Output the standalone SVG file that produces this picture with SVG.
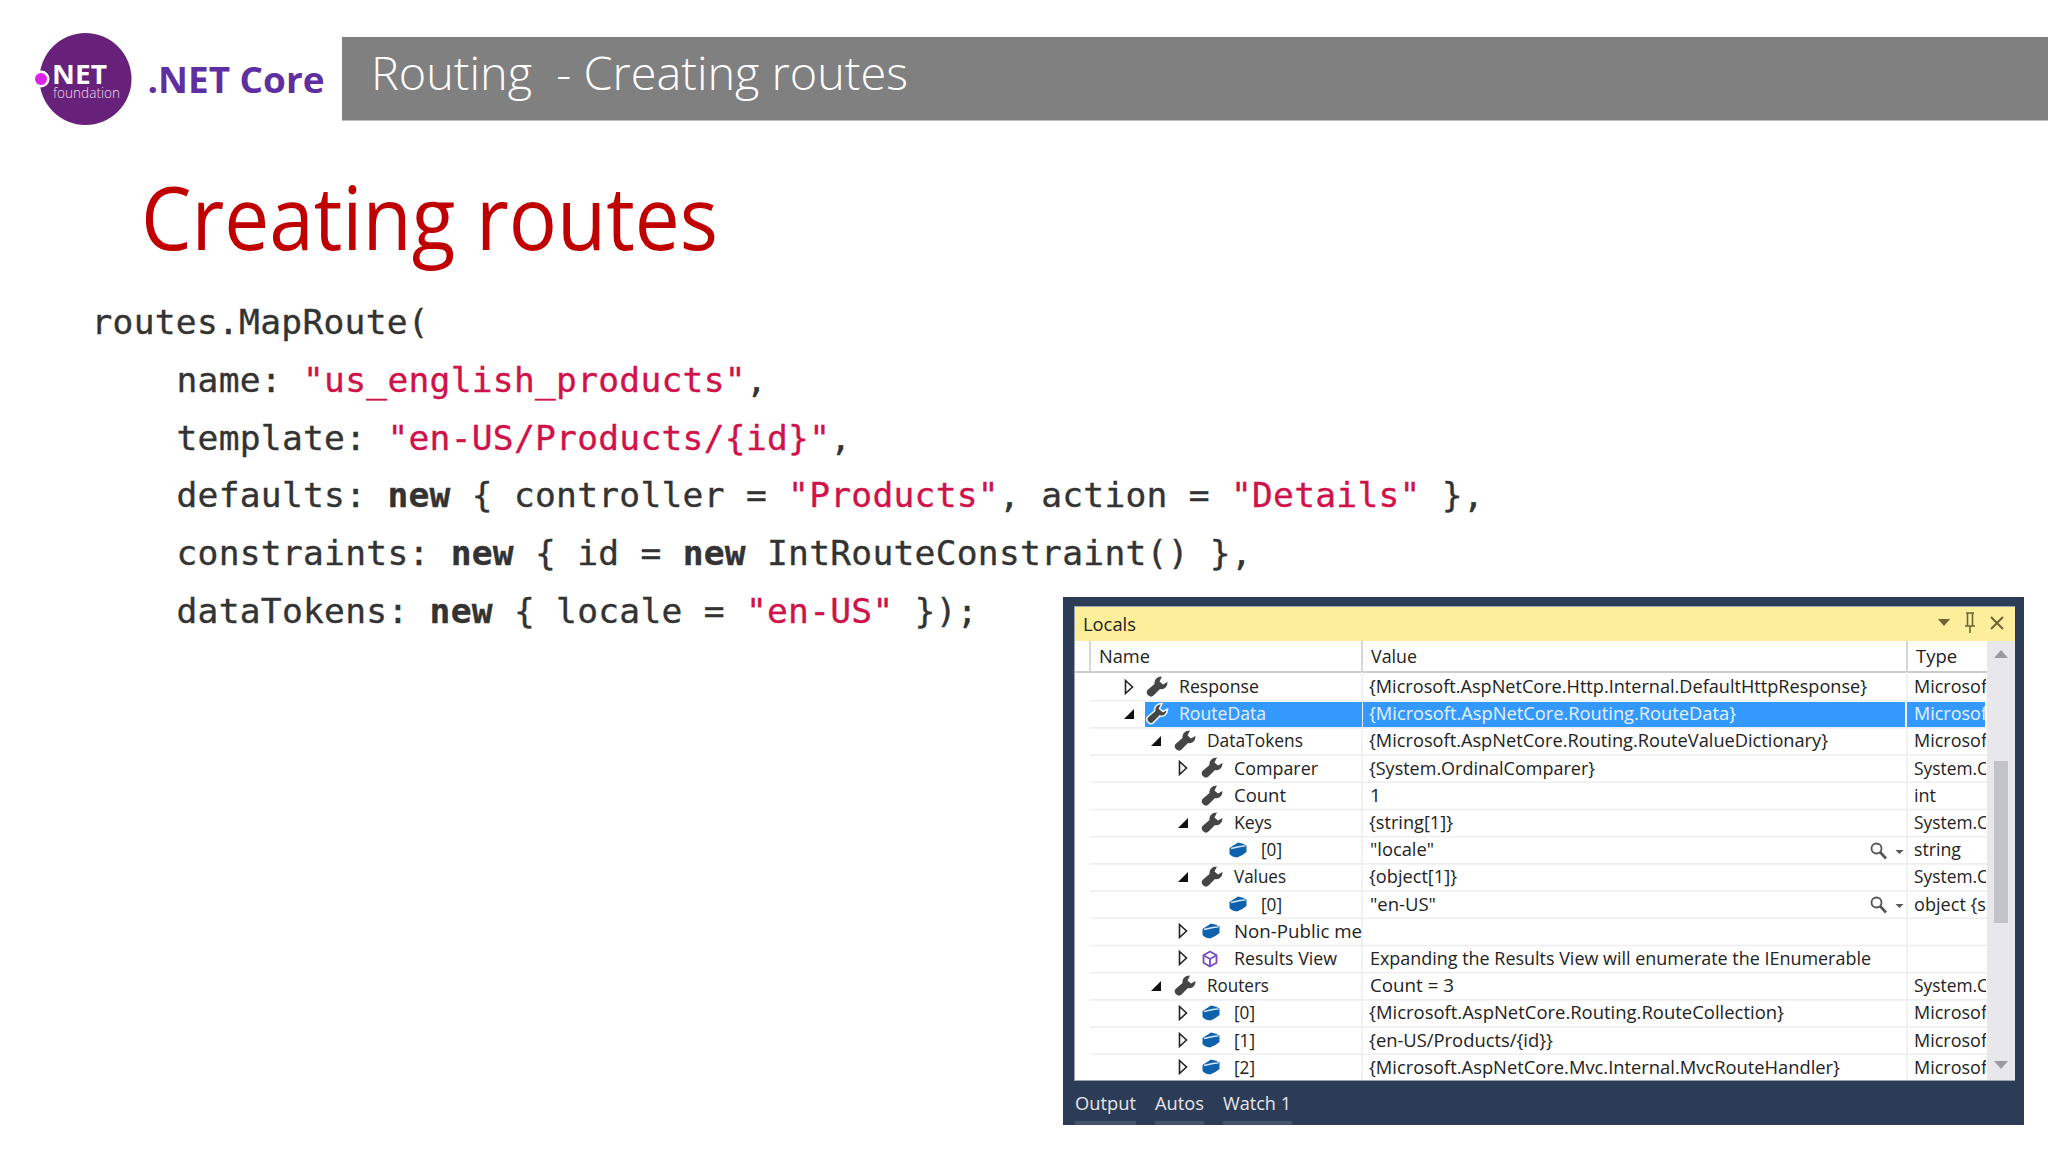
<svg xmlns="http://www.w3.org/2000/svg" width="2048" height="1152" viewBox="0 0 2048 1152">
<style>
.ui{font-family:"Open Sans","Noto Sans","Liberation Sans",sans-serif}
.code{font-family:"DejaVu Sans Mono","Liberation Mono",monospace;font-size:34.6px;letter-spacing:.27px;fill:#333;stroke:#333;stroke-width:.35}
.str{fill:#d0124a;stroke:#d0124a}
.kw{font-weight:700}
.t{font-family:"Open Sans","Noto Sans","Liberation Sans",sans-serif;font-size:19px;fill:#222}
.sel{fill:#e6f1ff}
.tab{font-family:"Open Sans","Noto Sans","Liberation Sans",sans-serif;font-size:19px;fill:#e4e6ea}
.rl{stroke:#efefef;stroke-width:1.6}
.w{fill:#454545}
.open{fill:#111}
.closed{fill:#fff;stroke:#222;stroke-width:1.6}
</style>
<defs>
<path id="wrench" d="M5-10.500C0-10.500-3-7-2.500-3L-9.500 3C-11 5-10 7.500-8.500 8.500C-7 10-5 10-3.500 8.500L3 2C7 3 10.500 0 10.500-5L6-2.500 2.500-5.500Z"/>
<g id="cube"><path d="M-8.500-2L0-7.500Q4-7 8.500-4.500V2Q4 6-1 7.500Q-6 7-8.500 4Z" fill="#0e62ad"/><path d="M-7-1.500L2-3.500 7.500-4.200" fill="none" stroke="#dbe9f6" stroke-width="1.300"/></g>
<g id="results" fill="none" stroke="#7a4cb8" stroke-width="1.800"><path d="M0-7.500L6.500-3.700V3.700L0 7.500-6.500 3.700V-3.700Z"/><path d="M-6.500-3.700L0 0 6.500-3.700M0 0V7.500"/></g>
<path id="tr-open" class="open" d="M-5 5H5V-5Z"/>
<path id="tr-closed" class="closed" d="M-3.500-6.500L3.500 0-3.500 6.500Z"/>
<g id="search"><circle cx="-1.500" cy="-2.500" r="5" fill="none" stroke="#555" stroke-width="1.800"/><path d="M2 1L8 7.500" stroke="#555" stroke-width="2.600"/><path d="M17.500-1H25.500L21.500 3Z" fill="#555"/></g>
<clipPath id="typeClip"><rect x="1908" y="672" width="78" height="408"/></clipPath>
</defs>
<rect width="2048" height="1152" fill="#fff"/>

<g id="logo">
<circle cx="85.500" cy="79" r="46" fill="#68217a"/>
<circle cx="41" cy="79" r="8.500" fill="#fff"/>
<circle cx="41" cy="79" r="6" fill="#dd22ee"/>
<text class="ui" x="52" y="83.500" font-size="26" font-weight="700" fill="#fff" textLength="55" lengthAdjust="spacingAndGlyphs">NET</text>
<text class="ui" x="53" y="98" font-size="15" font-weight="300" fill="#e9dcec" textLength="67" lengthAdjust="spacingAndGlyphs">foundation</text>
<text class="ui" x="147.500" y="92.700" font-size="36" font-weight="700" fill="#5f2ea0" textLength="177" lengthAdjust="spacingAndGlyphs">.NET Core</text>
</g>

<g id="header">
<rect x="342" y="37" width="1706" height="83.500" fill="#808080"/>
<text class="ui" x="371" y="90" font-size="46" font-weight="300" fill="#fff" xml:space="preserve" textLength="537" lengthAdjust="spacingAndGlyphs">Routing  - Creating routes</text>
</g>

<g id="title">
<text class="ui" x="141" y="250" font-size="88" fill="#c00000" textLength="577" lengthAdjust="spacingAndGlyphs">Creating routes</text>
</g>

<g id="code" xml:space="preserve">
<text class="code" x="91.500" y="334">routes.MapRoute(</text>
<text class="code" x="176.500" y="391.500">name: <tspan class="str">"us_english_products"</tspan>,</text>
<text class="code" x="176.500" y="449.500">template: <tspan class="str">"en-US/Products/{id}"</tspan>,</text>
<text class="code" x="176.500" y="507">defaults: <tspan class="kw">new</tspan> { controller = <tspan class="str">"Products"</tspan>, action = <tspan class="str">"Details"</tspan> },</text>
<text class="code" x="176.500" y="565">constraints: <tspan class="kw">new</tspan> { id = <tspan class="kw">new</tspan> IntRouteConstraint() },</text>
<text class="code" x="176.500" y="622.500">dataTokens: <tspan class="kw">new</tspan> { locale = <tspan class="str">"en-US"</tspan> });</text>
</g>

<g id="locals">
<rect x="1063" y="597" width="961" height="528" fill="#2d3c56"/>
<rect x="1074" y="606" width="941" height="475" fill="#9aa3b0"/>
<rect x="1075" y="607" width="940" height="34" fill="#fdee9b"/>
<rect x="1075" y="641" width="940" height="439" fill="#fff"/>
<text class="t" x="1083" y="631" textLength="53" lengthAdjust="spacingAndGlyphs">Locals</text>
<path d="M1938 619H1950L1944 626Z" fill="#6e6436"/>
<path d="M1966 613H1974M1967.500 613V626H1972.500V613M1965 626H1975M1970 626V633" fill="none" stroke="#6e6436" stroke-width="1.600"/>
<path d="M1991 617L2003 629M2003 617L1991 629" stroke="#6e6436" stroke-width="2"/>

<path d="M1090 641V672M1362 641V672M1907 641V672" stroke="#ccc" stroke-width="1.600"/>
<path d="M1075 672H1987" stroke="#ccc" stroke-width="2"/>
<text class="t" x="1099" y="663" textLength="51" lengthAdjust="spacingAndGlyphs">Name</text>
<text class="t" x="1371" y="663" textLength="46" lengthAdjust="spacingAndGlyphs">Value</text>
<text class="t" x="1916" y="663" textLength="41" lengthAdjust="spacingAndGlyphs">Type</text>

<rect x="1987" y="641" width="28" height="439" fill="#e8e8ec"/>
<rect x="1994" y="761" width="14" height="162" fill="#c2c3c9"/>
<path d="M1994 658H2008L2001 650Z" fill="#9a9a9f"/>
<path d="M1994 1061H2008L2001 1069Z" fill="#9a9a9f"/>

<path class="rl" d="M1090 700.700H1987M1090 727.900H1987M1090 755.100H1987M1090 782.300H1987M1090 809.500H1987M1090 836.700H1987M1090 863.900H1987M1090 891.100H1987M1090 918.300H1987M1090 945.500H1987M1090 972.700H1987M1090 999.900H1987M1090 1027.100H1987M1090 1054.300H1987"/>
<path class="rl" d="M1362 672V1080M1907 672V1080"/>

<rect x="1145" y="702" width="217" height="25" fill="#3399ff"/>
<rect x="1363" y="702" width="542" height="25" fill="#3399ff"/>
<rect x="1907" y="702" width="78" height="25" fill="#3399ff"/>

<g id="tree">
<use href="#tr-closed" x="1129" y="687"/>
<use href="#tr-open" x="1129" y="714"/>
<use href="#tr-open" x="1156" y="741"/>
<use href="#tr-closed" x="1183" y="768"/>
<use href="#tr-open" x="1183" y="823"/>
<use href="#tr-open" x="1183" y="877"/>
<use href="#tr-closed" x="1183" y="931"/>
<use href="#tr-closed" x="1183" y="958"/>
<use href="#tr-open" x="1156" y="986"/>
<use href="#tr-closed" x="1183" y="1013"/>
<use href="#tr-closed" x="1183" y="1040"/>
<use href="#tr-closed" x="1183" y="1067"/>
</g>

<g id="icons">
<use href="#wrench" class="w" x="1157" y="687"/>
<use href="#wrench" x="1157" y="714" fill="#454545" stroke="#eef4ff" stroke-width="1.600"/>
<use href="#wrench" class="w" x="1185" y="741"/>
<use href="#wrench" class="w" x="1212" y="768"/>
<use href="#wrench" class="w" x="1212" y="796"/>
<use href="#wrench" class="w" x="1212" y="823"/>
<use href="#cube" x="1238" y="850"/>
<use href="#wrench" class="w" x="1212" y="877"/>
<use href="#cube" x="1238" y="904"/>
<use href="#cube" x="1211" y="931"/>
<use href="#results" x="1210" y="959"/>
<use href="#wrench" class="w" x="1185" y="986"/>
<use href="#cube" x="1211" y="1013"/>
<use href="#cube" x="1211" y="1040"/>
<use href="#cube" x="1211" y="1067"/>
<use href="#search" x="1878" y="851"/>
<use href="#search" x="1878" y="905"/>
</g>

<g id="names">
<text class="t" x="1179" y="693" textLength="80" lengthAdjust="spacingAndGlyphs">Response</text>
<text class="t sel" x="1179" y="720" textLength="87" lengthAdjust="spacingAndGlyphs">RouteData</text>
<text class="t" x="1207" y="747.400" textLength="96" lengthAdjust="spacingAndGlyphs">DataTokens</text>
<text class="t" x="1234" y="774.600" textLength="84" lengthAdjust="spacingAndGlyphs">Comparer</text>
<text class="t" x="1234" y="801.800" textLength="52" lengthAdjust="spacingAndGlyphs">Count</text>
<text class="t" x="1234" y="829" textLength="38" lengthAdjust="spacingAndGlyphs">Keys</text>
<text class="t" x="1261" y="856.200" textLength="21" lengthAdjust="spacingAndGlyphs">[0]</text>
<text class="t" x="1234" y="883.400" textLength="52" lengthAdjust="spacingAndGlyphs">Values</text>
<text class="t" x="1261" y="910.600" textLength="21" lengthAdjust="spacingAndGlyphs">[0]</text>
<text class="t" x="1234" y="937.800" textLength="128" lengthAdjust="spacingAndGlyphs">Non-Public me</text>
<text class="t" x="1234" y="965" textLength="103" lengthAdjust="spacingAndGlyphs">Results View</text>
<text class="t" x="1207" y="992.200" textLength="62" lengthAdjust="spacingAndGlyphs">Routers</text>
<text class="t" x="1234" y="1019.400" textLength="21" lengthAdjust="spacingAndGlyphs">[0]</text>
<text class="t" x="1234" y="1046.600" textLength="21" lengthAdjust="spacingAndGlyphs">[1]</text>
<text class="t" x="1234" y="1073.800" textLength="21" lengthAdjust="spacingAndGlyphs">[2]</text>
</g>

<g id="values">
<text class="t" x="1369" y="693" textLength="498" lengthAdjust="spacingAndGlyphs">{Microsoft.AspNetCore.Http.Internal.DefaultHttpResponse}</text>
<text class="t sel" x="1369" y="720" textLength="367" lengthAdjust="spacingAndGlyphs">{Microsoft.AspNetCore.Routing.RouteData}</text>
<text class="t" x="1369" y="747.400" textLength="459" lengthAdjust="spacingAndGlyphs">{Microsoft.AspNetCore.Routing.RouteValueDictionary}</text>
<text class="t" x="1369" y="774.600" textLength="226" lengthAdjust="spacingAndGlyphs">{System.OrdinalComparer}</text>
<text class="t" x="1370" y="801.800">1</text>
<text class="t" x="1369" y="829" textLength="84" lengthAdjust="spacingAndGlyphs">{string[1]}</text>
<text class="t" x="1370" y="856.200" textLength="64" lengthAdjust="spacingAndGlyphs">"locale"</text>
<text class="t" x="1369" y="883.400" textLength="88" lengthAdjust="spacingAndGlyphs">{object[1]}</text>
<text class="t" x="1370" y="910.600" textLength="66" lengthAdjust="spacingAndGlyphs">"en-US"</text>
<text class="t" x="1370" y="965" textLength="501" lengthAdjust="spacingAndGlyphs">Expanding the Results View will enumerate the IEnumerable</text>
<text class="t" x="1370" y="992.200" textLength="84" lengthAdjust="spacingAndGlyphs">Count = 3</text>
<text class="t" x="1369" y="1019.400" textLength="415" lengthAdjust="spacingAndGlyphs">{Microsoft.AspNetCore.Routing.RouteCollection}</text>
<text class="t" x="1369" y="1046.600" textLength="184" lengthAdjust="spacingAndGlyphs">{en-US/Products/{id}}</text>
<text class="t" x="1369" y="1073.800" textLength="471" lengthAdjust="spacingAndGlyphs">{Microsoft.AspNetCore.Mvc.Internal.MvcRouteHandler}</text>
</g>

<g id="types" clip-path="url(#typeClip)">
<text class="t" x="1914" y="693" textLength="73" lengthAdjust="spacingAndGlyphs">Microsof</text>
<text class="t sel" x="1914" y="720" textLength="73" lengthAdjust="spacingAndGlyphs">Microsof</text>
<text class="t" x="1914" y="747.400" textLength="73" lengthAdjust="spacingAndGlyphs">Microsof</text>
<text class="t" x="1914" y="774.600" textLength="74" lengthAdjust="spacingAndGlyphs">System.C</text>
<text class="t" x="1914" y="801.800" textLength="22" lengthAdjust="spacingAndGlyphs">int</text>
<text class="t" x="1914" y="829" textLength="74" lengthAdjust="spacingAndGlyphs">System.C</text>
<text class="t" x="1914" y="856.200" textLength="47" lengthAdjust="spacingAndGlyphs">string</text>
<text class="t" x="1914" y="883.400" textLength="74" lengthAdjust="spacingAndGlyphs">System.C</text>
<text class="t" x="1914" y="910.600" textLength="72" lengthAdjust="spacingAndGlyphs">object {s</text>
<text class="t" x="1914" y="992.200" textLength="74" lengthAdjust="spacingAndGlyphs">System.C</text>
<text class="t" x="1914" y="1019.400" textLength="73" lengthAdjust="spacingAndGlyphs">Microsof</text>
<text class="t" x="1914" y="1046.600" textLength="73" lengthAdjust="spacingAndGlyphs">Microsof</text>
<text class="t" x="1914" y="1073.800" textLength="73" lengthAdjust="spacingAndGlyphs">Microsof</text>
</g>

<g id="tabs">
<text class="tab" x="1075" y="1110" textLength="61" lengthAdjust="spacingAndGlyphs">Output</text>
<text class="tab" x="1155" y="1110" textLength="49" lengthAdjust="spacingAndGlyphs">Autos</text>
<text class="tab" x="1223" y="1110" textLength="68" lengthAdjust="spacingAndGlyphs">Watch 1</text>
<path d="M1075 1123H1136M1155 1123H1204M1223 1123H1292" stroke="#44546e" stroke-width="4"/>
</g>
</g>
</svg>
